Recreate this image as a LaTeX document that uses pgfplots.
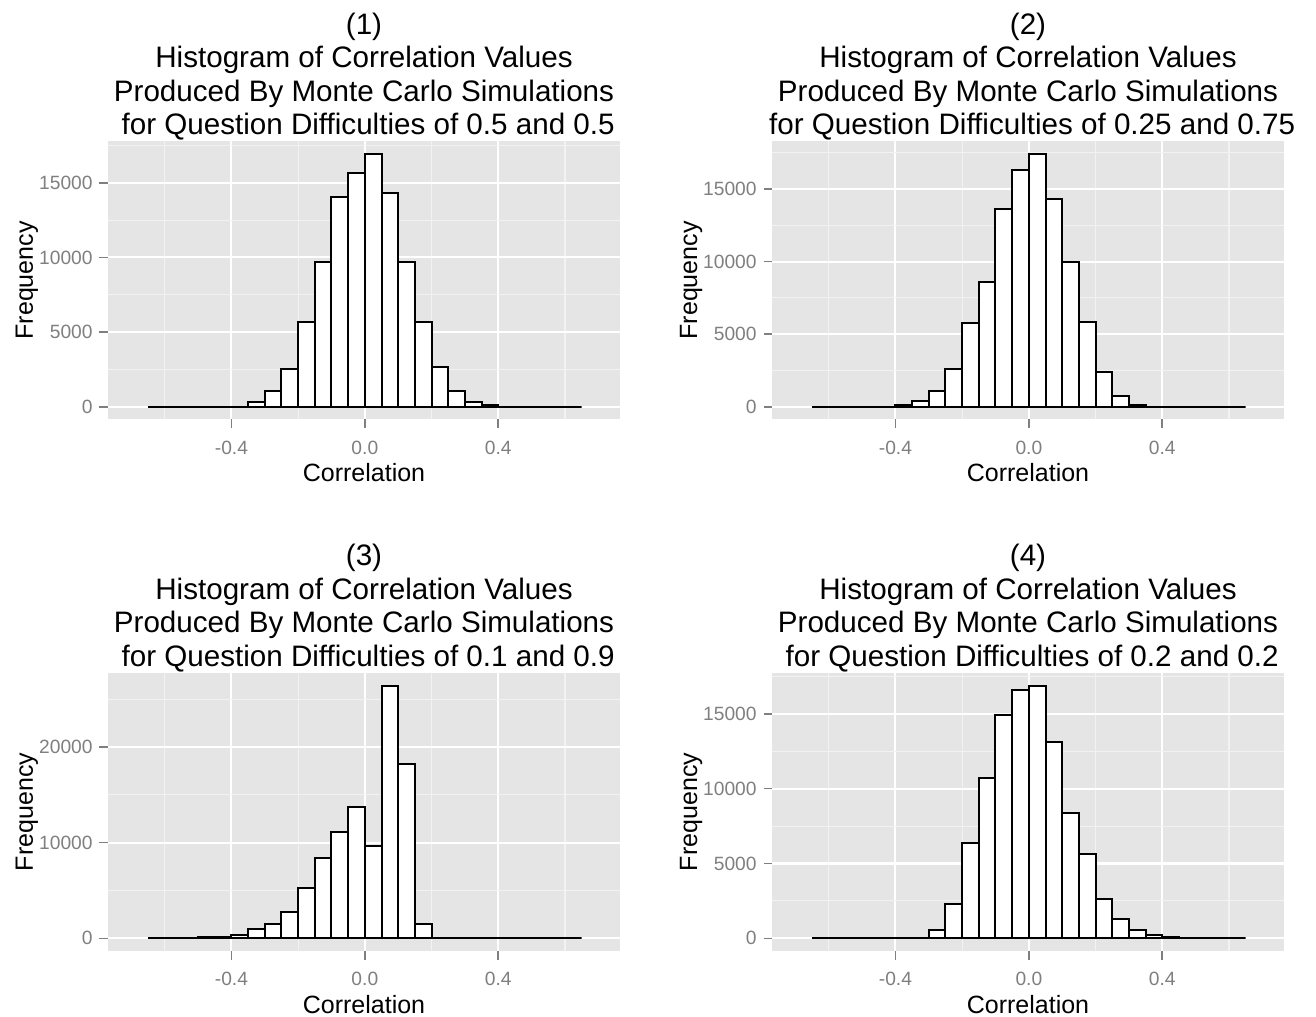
\documentclass[border=0pt]{standalone}
\usepackage{fontspec}
\setmainfont{Liberation Sans}
\usepackage{pgfplots}
\pgfplotsset{compat=1.18}

\definecolor{panelbg}{HTML}{E5E5E5}
\definecolor{minorgrid}{HTML}{F2F2F2}
\definecolor{ticktext}{HTML}{7F7F7F}

\pgfplotsset{
  ggpanel/.style={
    scale only axis,
    width=256bp, height=139bp,
    anchor=south west,
    xmin=-0.77, xmax=0.765,
    axis line style={draw=none},
    axis background/.style={fill=panelbg},
    scaled ticks=false,
    xtick={-0.4,0,0.4},
    xticklabels={-0.4,0.0,0.4},
    minor xtick={-0.6,-0.2,0.2,0.6},
    grid=both,
    major grid style={draw=white, line width=1.07bp},
    minor grid style={draw=minorgrid, line width=0.53bp},
    tick align=inside,
    major tick length=-4.25bp,
    minor tick length=0pt,
    tick style={draw=ticktext, line width=0.8bp},
    tick pos=left,
    tick label style={font=\fontsize{9.6bp}{11bp}\selectfont, text=ticktext, inner sep=0pt},
    xticklabel style={anchor=base, yshift=-17.4bp},
    yticklabel style={anchor=east, xshift=-7.5bp},
    every axis title/.style={at={(0.5,1)}, anchor=south, yshift=0.5bp, inner sep=0pt,
      align=center, font=\fontsize{14.8bp}{16.7bp}\selectfont},
    every axis x label/.style={at={(0.5,0)}, anchor=base, yshift=-31bp, inner sep=0pt,
      font=\fontsize{12.5bp}{14bp}\selectfont},
    every axis y label/.style={at={(0,0.5)}, xshift=-37.5bp, rotate=90, anchor=base, inner sep=0pt,
      font=\fontsize{12.5bp}{14bp}\selectfont},
    xlabel={Correlation},
    ylabel={Frequency},
  },
  histbars/.style={ybar, bar width=0.05, bar shift=0pt, fill=white, draw=black, line width=1bp},
}

\begin{document}
\begin{tikzpicture}
\path[use as bounding box] (0,0) rectangle (658bp,508.5bp);

% (1) difficulties 0.5 and 0.5
\begin{axis}[ggpanel, at={(54bp,298.8bp)},
  ymin=-846, ymax=17766,
  ytick={0,5000,10000,15000}, yticklabels={0,5000,10000,15000},
  minor ytick={2500,7500,12500,17500},
  title={(1)\\Histogram of Correlation Values\\Produced By Monte Carlo Simulations\\\mbox{}\ for Question Difficulties of 0.5 and 0.5}]
\addplot[histbars] coordinates {
  (-0.625,0) (-0.575,0) (-0.525,0) (-0.475,0) (-0.425,0) (-0.375,0)
  (-0.325,290) (-0.275,1025) (-0.225,2519) (-0.175,5684) (-0.125,9697)
  (-0.075,14044) (-0.025,15627) (0.025,16920) (0.075,14289) (0.125,9697)
  (0.175,5684) (0.225,2630) (0.275,1025) (0.325,290) (0.375,90)
  (0.425,0) (0.475,0) (0.525,0) (0.575,0) (0.625,0)
};
\end{axis}

% (2) difficulties 0.25 and 0.75
\begin{axis}[ggpanel, at={(386bp,298.8bp)},
  ymin=-870, ymax=18278,
  ytick={0,5000,10000,15000}, yticklabels={0,5000,10000,15000},
  minor ytick={2500,7500,12500,17500},
  title={(2)\\Histogram of Correlation Values\\Produced By Monte Carlo Simulations\\\mbox{}\ for Question Difficulties of 0.25 and 0.75}]
\addplot[histbars] coordinates {
  (-0.625,0) (-0.575,0) (-0.525,0) (-0.475,0) (-0.425,0)
  (-0.375,115) (-0.325,413) (-0.275,1055) (-0.225,2592) (-0.175,5757)
  (-0.125,8578) (-0.075,13601) (-0.025,16307) (0.025,17408) (0.075,14335)
  (0.125,9977) (0.175,5872) (0.225,2385) (0.275,757) (0.325,115)
  (0.375,0) (0.425,0) (0.475,0) (0.525,0) (0.575,0) (0.625,0)
};
\end{axis}

% (3) difficulties 0.1 and 0.9
\begin{axis}[ggpanel, at={(54bp,33bp)},
  ymin=-1320, ymax=27721,
  ytick={0,10000,20000}, yticklabels={0,10000,20000},
  minor ytick={5000,15000,25000},
  title={(3)\\Histogram of Correlation Values\\Produced By Monte Carlo Simulations\\\mbox{}\ for Question Difficulties of 0.1 and 0.9}]
\addplot[histbars] coordinates {
  (-0.625,0) (-0.575,0) (-0.525,0)
  (-0.475,120) (-0.425,150) (-0.375,311) (-0.325,1003) (-0.275,1453)
  (-0.225,2768) (-0.175,5260) (-0.125,8374) (-0.075,11142) (-0.025,13772)
  (0.025,9689) (0.075,26401) (0.125,18166) (0.175,1453)
  (0.225,0) (0.275,0) (0.325,0) (0.375,0) (0.425,0) (0.475,0) (0.525,0) (0.575,0) (0.625,0)
};
\end{axis}

% (4) difficulties 0.2 and 0.2
\begin{axis}[ggpanel, at={(386bp,33bp)},
  ymin=-844, ymax=17725,
  ytick={0,5000,10000,15000}, yticklabels={0,5000,10000,15000},
  minor ytick={2500,7500,12500,17500},
  title={(4)\\Histogram of Correlation Values\\Produced By Monte Carlo Simulations\\\mbox{}\ for Question Difficulties of 0.2 and 0.2}]
\addplot[histbars] coordinates {
  (-0.625,0) (-0.575,0) (-0.525,0) (-0.475,0) (-0.425,0) (-0.375,0) (-0.325,0)
  (-0.275,531) (-0.225,2301) (-0.175,6394) (-0.125,10686) (-0.075,14912)
  (-0.025,16571) (0.025,16881) (0.075,13119) (0.125,8385) (0.175,5664)
  (0.225,2611) (0.275,1261) (0.325,531) (0.375,199) (0.425,111)
  (0.475,0) (0.525,0) (0.575,0) (0.625,0)
};
\end{axis}
\end{tikzpicture}
\end{document}
